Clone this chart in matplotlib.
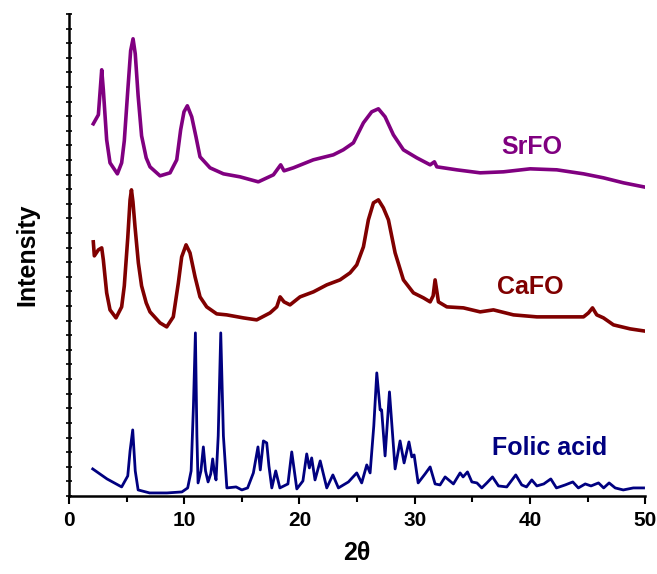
import numpy as np
import matplotlib
matplotlib.use('Agg')
import matplotlib.pyplot as plt
from matplotlib.ticker import MultipleLocator

plt.rcParams['font.family'] = ['Liberation Sans', 'DejaVu Sans']

# Folic acid (navy) - 2theta and intensity
fa_x = [2.06, 3.3, 4.57, 5.1, 5.3, 5.53, 5.75, 6.0, 7.0, 8.5, 9.8, 10.3, 10.6, 10.8, 10.97,
        11.1, 11.2, 11.45, 11.66, 11.85, 12.07, 12.3, 12.47, 12.6, 12.76, 12.95, 13.17,
        13.4, 13.7, 14.5, 15.0, 15.5, 16.0, 16.4, 16.6, 16.87, 17.16, 17.35, 17.6, 17.94,
        18.3, 19.0, 19.33, 19.77, 20.3, 20.63, 20.86, 21.06, 21.35, 21.8, 22.37, 22.9,
        23.38, 24.25, 24.97, 25.4, 25.84, 26.13, 26.45, 26.71, 27.0, 27.13, 27.43, 27.81,
        28.3, 28.73, 29.08, 29.5, 29.75, 29.95, 30.3, 30.9, 31.34, 31.77, 32.2, 32.64,
        33.36, 33.94, 34.2, 34.58, 34.96, 35.4, 35.82, 36.26, 36.75, 37.27, 37.99, 38.77,
        39.29, 39.7, 40.16, 40.6, 41.2, 41.81, 42.3, 43.06, 43.72, 44.2, 44.8, 45.3,
        45.95, 46.4, 46.87, 47.4, 48.1, 48.97, 49.86]
fa_y = [27, 17, 9, 20, 45, 66, 25, 6, 3, 3, 4, 8, 25, 90, 163,
        60, 13, 25, 49, 25, 14, 22, 37, 25, 16, 60, 163,
        60, 8, 9, 6, 8, 23, 49, 26, 55, 53, 30, 8, 25,
        8, 12, 44, 7, 15, 42, 28, 38, 16, 35, 8, 21,
        8, 14, 23, 13, 31, 23, 70, 123, 86, 86, 40, 104,
        27, 55, 33, 54, 39, 41, 13, 22, 29, 12, 11, 19,
        12, 23, 19, 24, 14, 13, 8, 13, 19, 10, 9, 21,
        11, 9, 16, 10, 12, 17, 8, 11, 14, 8, 12, 10,
        13, 8, 13, 8, 6, 8, 8]

# CaFO (dark red)
ca_x = [2.11, 2.2, 2.55, 2.84, 2.98, 3.27, 3.56, 4.08, 4.57, 4.8, 5.1, 5.3, 5.42, 5.55,
        5.73, 6.02, 6.3, 6.7, 7.03, 7.9, 8.48, 9.05, 9.49, 9.78, 10.16, 10.5, 10.94,
        11.37, 11.95, 12.82, 13.69, 15.13, 16.29, 17.45, 18.03, 18.32, 18.66, 19.18,
        20.05, 21.21, 22.37, 23.52, 24.39, 24.97, 25.55, 25.98, 26.42, 26.85, 27.28,
        27.72, 28.3, 29.02, 29.89, 30.76, 31.34, 31.6, 31.77, 32.06, 32.79, 34.23,
        35.68, 36.83, 38.57, 40.6, 42.91, 44.65, 45.08, 45.43, 45.8, 46.38, 47.25,
        48.7, 49.86]
ca_y = [254, 240, 246, 248, 236, 203, 186, 178, 189, 210, 258, 296, 306, 294,
        269, 233, 210, 193, 184, 173, 169, 179, 213, 239, 251, 243, 219,
        199, 189, 182, 181, 178, 176, 183, 189, 199, 194, 191,
        199, 204, 211, 216, 223, 231, 249, 276, 293, 296, 288,
        276, 243, 216, 203, 198, 194, 200, 216, 194, 189, 188,
        184, 186, 181, 179, 179, 179, 183, 188, 181, 178, 171,
        167, 165]

# SrFO (purple)
sr_x = [2.11, 2.55, 2.84, 2.98, 3.27, 3.56, 4.2, 4.57, 4.8, 5.1, 5.35, 5.56, 5.75,
        6.0, 6.3, 6.7, 7.03, 7.9, 8.77, 9.35, 9.69, 9.98, 10.27, 10.65, 11.02, 11.37,
        12.24, 13.4, 14.84, 16.43, 17.74, 18.37, 18.66, 19.47, 21.2, 22.94, 23.8,
        24.68, 25.55, 26.27, 26.85, 27.43, 28.15, 29.02, 30.18, 31.34, 31.71, 31.92,
        33.65, 35.68, 37.7, 40.02, 42.33, 44.65, 46.38, 48.12, 49.86]
sr_y = [372, 381, 426, 406, 356, 333, 322, 333, 355, 405, 445, 457, 442,
        400, 360, 338, 329, 320, 323, 336, 366, 384, 390, 379, 359, 339,
        328, 322, 319, 314, 321, 331, 325, 328, 336, 341, 346,
        353, 373, 384, 387, 379, 361, 346, 338, 331, 334, 329,
        326, 323, 324, 327, 326, 322, 318, 313, 309]

fig = plt.figure(figsize=(6.57, 5.74), dpi=100)
ax = fig.add_axes([0.105, 0.136, 0.877, 0.840])

ax.plot(sr_x, sr_y, color='#800080', lw=2.6)
ax.plot(ca_x, ca_y, color='#800000', lw=2.6)
ax.plot(fa_x, fa_y, color='#000080', lw=2.0)

ax.text(40.2, 349, 'SrFO', color='#800080', fontsize=18, fontweight='bold', ha='center', va='center')
ax.text(40.0, 209, 'CaFO', color='#800000', fontsize=18, fontweight='bold', ha='center', va='center')
ax.text(41.75, 48, 'Folic acid', color='#000080', fontsize=18, fontweight='bold', ha='center', va='center')

ax.set_xlim(0, 50)
ax.set_ylim(0, 482)
ax.xaxis.set_major_locator(MultipleLocator(10))
ax.xaxis.set_minor_locator(MultipleLocator(5))
ax.yaxis.set_major_locator(MultipleLocator(14.6))
ax.set_yticklabels([])
ax.tick_params(axis='x', which='major', direction='out', length=6, width=1.5, labelsize=15, pad=5)
ax.tick_params(axis='x', which='minor', direction='out', length=4, width=1.5)
ax.tick_params(axis='y', which='major', direction='inout', length=4, width=1.2)
for lab in ax.get_xticklabels():
    lab.set_fontweight('bold')

for s in ['top', 'right']:
    ax.spines[s].set_visible(False)
for s in ['left', 'bottom']:
    ax.spines[s].set_linewidth(1.8)

ax.set_xlabel('2θ', fontsize=18, fontweight='bold', labelpad=8)
ax.set_ylabel('Intensity', fontsize=18, fontweight='bold', labelpad=16)

fig.savefig('out.png', dpi=100)
